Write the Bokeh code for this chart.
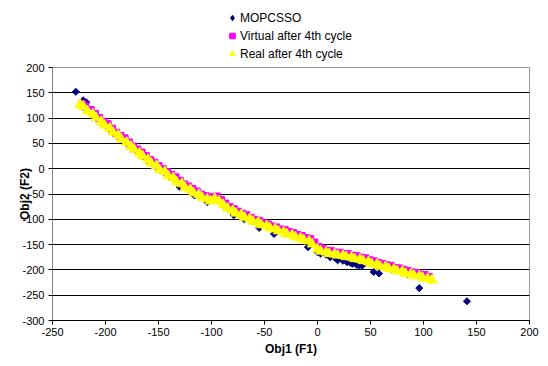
from bokeh.plotting import figure
from bokeh.layouts import column
from bokeh.models import Legend, LegendItem, FixedTicker, Range1d
from bokeh.embed import file_html
from bokeh.resources import INLINE

# ---- data ----
mop_x = [-228, -221, -218, -212, -200, -190, -180, -170, -160, -150,
         -140, -130, -122, -116, -110, -104, -95, -86, -79, -69,
         -62, -55, -48, -41, -30, -20, -9, 0, 3, 8,
         12, 17, 19, 24, 28, 31, 33, 37, 39, 42,
         53, 58, 70, 85, 96, 141]
mop_y = [152, 135, 131, 107, 86, 69, 51, 34, 17, 0,
         -15, -36, -40, -53, -55, -66, -62, -76, -92, -100,
         -103, -117, -114, -129, -128, -135, -155, -165, -168, -170,
         -175, -177, -181, -182, -185, -186, -188, -190, -191, -192,
         -204, -207, -199, -208, -236, -262]

vir_x = [-222, -219, -214, -210, -206, -202, -198, -194, -190, -186,
         -182, -178, -174, -170, -166, -162, -158, -154, -150, -146,
         -142, -138, -134, -130, -126, -122, -118, -114, -110, -106,
         -102, -98, -95, -91, -87, -83, -79, -75, -71, -67,
         -63, -59, -55, -51, -47, -43, -39, -35, -31, -27,
         -23, -19, -15, -11, -7, -3, 1, 5, 9, 13,
         17, 21, 25, 29, 33, 37, 41, 45, 49, 53,
         57, 61, 65, 69, 73, 77, 81, 85, 89, 93,
         97, 101, 105]
vir_y = [128, 123, 116, 108, 100, 93, 88, 79, 71, 65,
         60, 52, 44, 38, 32, 25, 17, 12, 5, -1,
         -7, -12, -17, -24, -31, -35, -40, -45, -51, -54,
         -57, -56, -55, -62, -69, -76, -80, -85, -89, -92,
         -97, -101, -103, -108, -110, -114, -116, -120, -121, -125,
         -127, -131, -133, -137, -139, -146, -155, -158, -162, -163,
         -166, -166, -169, -169, -172, -173, -176, -177, -181, -183,
         -186, -188, -191, -192, -196, -197, -200, -202, -205, -206,
         -209, -210, -214]

real_x = [-224, -221, -217, -212, -209, -204, -201, -196, -193, -188,
          -185, -180, -176, -173, -168, -165, -160, -157, -152, -149,
          -144, -141, -136, -133, -128, -125, -120, -117, -112, -109,
          -104, -101, -97, -93, -89, -85, -80, -77, -72, -69,
          -64, -61, -56, -53, -48, -45, -40, -37, -32, -29,
          -24, -21, -16, -13, -8, -5, 0, 3, 8, 11,
          16, 19, 24, 27, 32, 35, 40, 43, 48, 51,
          56, 59, 64, 67, 72, 75, 80, 83, 88, 91,
          96, 99, 104, 108]
real_y = [127, 123, 114, 108, 101, 93, 86, 80, 72, 66,
          58, 52, 44, 38, 31, 25, 18, 11, 6, -2,
          -6, -14, -18, -26, -30, -37, -41, -48, -51, -57,
          -60, -64, -59, -64, -71, -78, -83, -88, -91, -96,
          -99, -104, -106, -111, -113, -117, -119, -123, -125, -129,
          -131, -135, -137, -141, -143, -149, -159, -163, -165, -168,
          -169, -171, -172, -174, -175, -178, -179, -182, -184, -188,
          -189, -193, -194, -197, -199, -202, -203, -207, -208, -211,
          -212, -215, -217, -220]

series_names = ["MOPCSSO", "Virtual after 4th cycle", "Real after 4th cycle"]
x_ticks = [-250, -200, -150, -100, -50, 0, 50, 100, 150, 200]
y_ticks = [-300, -250, -200, -150, -100, -50, 0, 50, 100, 150, 200]
x_title = "Obj1 (F1)"
y_title = "Obj2 (F2)"

FONT = "Liberation Sans"
NAVY, MAGENTA, YELLOW = "#000080", "#FF00FF", "#FFFF00"

# ---- legend strip (above the plot area, as in the reference) ----
# its renderers hold the real series, which all fall outside this strip's
# (0..1) ranges, so only the legend entries are visible here
lg = figure(width=540, height=62, output_backend="svg", toolbar_location=None,
            x_range=Range1d(0, 1), y_range=Range1d(0, 1),
            x_axis_type=None, y_axis_type=None,
            min_border_left=0, min_border_right=0, min_border_top=0,
            min_border_bottom=0)
lg.outline_line_color = None
lg.xgrid.grid_line_color = None
lg.ygrid.grid_line_color = None
lg.background_fill_color = "white"
lg.border_fill_color = "white"
l_mop = lg.scatter(mop_x, mop_y, marker="diamond", size=8,
                   fill_color=NAVY, line_color=NAVY)
l_vir = lg.scatter(vir_x, vir_y, marker="square", size=7,
                   fill_color=MAGENTA, line_color=MAGENTA)
l_real = lg.scatter(real_x, real_y, marker="triangle", size=10,
                    fill_color=YELLOW, line_color=YELLOW)
legend = Legend(items=[LegendItem(label=series_names[0], renderers=[l_mop]),
                       LegendItem(label=series_names[1], renderers=[l_vir]),
                       LegendItem(label=series_names[2], renderers=[l_real])],
                location=(173, 0))
legend.border_line_color = None
legend.background_fill_alpha = 0
legend.label_text_font = FONT
legend.label_text_font_size = "12px"
legend.label_text_color = "black"
legend.glyph_width = 14
legend.glyph_height = 17
legend.label_height = 17
legend.spacing = 1
legend.padding = 0
legend.margin = 0
legend.label_standoff = 1
lg.add_layout(legend)

# ---- main plot ----
p = figure(width=540, height=296, output_backend="svg", toolbar_location=None,
           x_range=Range1d(-250, 200), y_range=Range1d(-300, 200),
           min_border_left=52, min_border_right=11, min_border_top=5,
           min_border_bottom=38)
p.background_fill_color = "white"
p.border_fill_color = "white"
p.outline_line_color = "#999999"
p.outline_line_width = 1

r_mop = p.scatter(mop_x, mop_y, marker="square", size=5, angle=0.785398,
                  fill_color=NAVY, line_color=NAVY)
r_vir = p.scatter(vir_x, vir_y, marker="square", size=7,
                  fill_color=MAGENTA, line_color=MAGENTA)
r_real = p.scatter(real_x, real_y, marker="triangle", size=10,
                   fill_color=YELLOW, line_color=YELLOW)

for ax in (p.xaxis[0], p.yaxis[0]):
    ax.major_label_text_font = FONT
    ax.major_label_text_font_size = "11px"
    ax.major_label_text_color = "black"
    ax.axis_label_text_font = FONT
    ax.axis_label_text_font_size = "12px"
    ax.axis_label_text_font_style = "bold"
    ax.axis_label_text_color = "black"
    ax.major_tick_in = 0
    ax.major_tick_out = 4
    ax.minor_tick_in = 0
    ax.minor_tick_out = 0
    ax.major_tick_line_color = "black"

p.xaxis.ticker = FixedTicker(ticks=x_ticks)
p.yaxis.ticker = FixedTicker(ticks=y_ticks)
p.xaxis.major_label_overrides = {t: str(t) for t in x_ticks}
p.yaxis.major_label_overrides = {t: str(t) for t in y_ticks}
p.xaxis.axis_label = x_title
p.yaxis.axis_label = y_title
p.xaxis.axis_line_color = "black"
p.yaxis.axis_line_color = "#808080"
p.xaxis.major_label_standoff = 3
p.yaxis.major_label_standoff = 4
p.xaxis.axis_label_standoff = 3
p.yaxis.axis_label_standoff = -13

p.xgrid.grid_line_color = None
p.ygrid.ticker = FixedTicker(ticks=y_ticks)
p.ygrid.grid_line_color = "black"
p.ygrid.grid_line_width = 1

layout = column(lg, p, spacing=0)
open("out.html", "w").write(file_html(layout, INLINE))
